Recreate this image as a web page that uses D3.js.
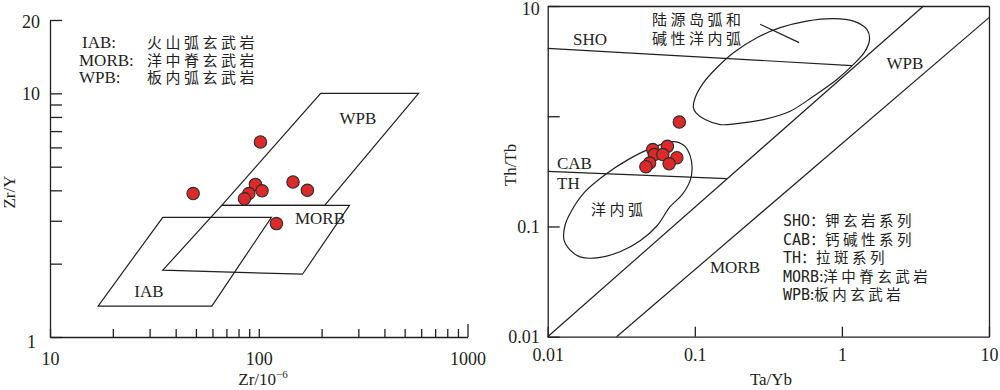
<!DOCTYPE html>
<html>
<head>
<meta charset="utf-8">
<script src="https://cdn.jsdelivr.net/npm/d3@7"></script>
<style>
body { margin: 0; background: #fff; }
svg { display: block; background: #fff; }
text { font-family: "Liberation Serif", "Noto Sans CJK SC", serif; fill: #231f20; }
.axis path, .axis line { stroke: #231f20; stroke-width: 1.3; }
.axis text { font-size: 18px; fill: #231f20; }
.line { fill: none; stroke: #231f20; stroke-width: 1.2; }
.dot { fill: #dc2a2a; stroke: #2b2b2b; stroke-width: 1.1; }
.lab { font-size: 17px; }
.cn { font-family: "Noto Sans CJK SC", sans-serif; font-size: 15px; letter-spacing: 3.5px; }
.mono { font-family: "DejaVu Sans Mono", monospace; font-size: 15px; }
</style>
</head>
<body>
<div id="chart"></div>
<script>
// ---- Left diagram: Zr/Y vs Zr ----
let zr  = [101.9, 48.5, 96.4, 89.6, 103.7, 85.4, 145.9, 171, 121.5];
let zrY = [6.32, 3.88, 4.23, 3.88, 3.98, 3.69, 4.33, 4.0, 2.92];

let zrTicks  = [10, 20, 30, 40, 50, 60, 70, 80, 90, 100, 200, 300, 400, 500, 600, 700, 800, 900, 1000];
let zrLabels = [10, 100, 1000];
let zrYTicks  = [1, 2, 3, 4, 5, 6, 7, 8, 9, 10, 20];
let zrYLabels = [1, 10, 20];

let wpbField  = [[198, 10], [583, 10], [207, 3.47], [66.5, 3.47]];
let morbField = [[66.5, 3.47], [272, 3.47], [162, 1.81], [34.7, 1.88]];
let iabField  = [[34.7, 3.1], [115, 3.1], [59.6, 1.34], [17, 1.34]];

let leftLegendAbbr = ['IAB:', 'MORB:', 'WPB:'];
let leftLegendName = ['火山弧玄武岩', '洋中脊玄武岩', '板内弧玄武岩'];

// ---- Right diagram: Th/Tb vs Ta/Yb ----
let taYb = [0.0785, 0.0518, 0.0651, 0.0531, 0.0606, 0.0755, 0.0669, 0.0493, 0.0465];
let thTb = [0.885, 0.498, 0.533, 0.449, 0.449, 0.421, 0.37, 0.376, 0.348];

let logTicks  = [0.01, 0.1, 1, 10];
let yLabelsR  = [0.01, 0.1, 10];

let shoLine   = [[0.01, 4.13], [1.17, 2.88]];
let thLine    = [[0.01, 0.316], [0.165, 0.2715]];
let arrayUpper = [[0.01, 0.01], [3.59, 10]];
let arrayLower = [[0.0294, 0.01], [10, 7.84]];
let arcCross  = [[0.278, 6.82], [0.512, 4.65]];

let contArcField = [
    [0.0978, 1.192], [0.1005, 1.47], [0.1144, 2.01], [0.1411, 2.754], [0.1831, 3.77],
    [0.2641, 5.16], [0.3804, 6.36], [0.5778, 7.30], [0.8767, 7.68], [1.199, 7.30],
    [1.479, 6.14], [1.541, 4.98], [1.44, 3.90], [1.199, 2.951], [0.9247, 2.157],
    [0.6408, 1.52], [0.4448, 1.11], [0.2929, 0.933], [0.193, 0.858], [0.1486, 0.840],
    [0.1175, 0.933], [0.102, 1.074]
];
let oceanArcField = [
    [0.0712, 0.589], [0.0846, 0.5417], [0.0929, 0.439], [0.0959, 0.3417], [0.0929, 0.2603],
    [0.082, 0.1942], [0.0679, 0.151], [0.0554, 0.1015], [0.0425, 0.0741], [0.031, 0.0589],
    [0.02165, 0.0519], [0.0166, 0.053], [0.01418, 0.0614], [0.0129, 0.0757], [0.0131, 0.1015],
    [0.0144, 0.136], [0.01794, 0.2067], [0.02454, 0.295], [0.0352, 0.404], [0.0497, 0.5085]
];

let rightLegendAbbr = ['SHO', 'CAB', 'TH', 'MORB', 'WPB'];
let rightLegendSep  = ['：', '：', '：', ':', ':'];
let rightLegendName = ['钾玄岩系列', '钙碱性系列', '拉斑系列', '洋中脊玄武岩', '板内玄武岩'];

let svg = d3.select('#chart')
    .append('svg')
    .attr('width', 1000)
    .attr('height', 390);

// ================= Left =================
let xL = d3.scaleLog().domain([10, 1000]).range([50, 467.5]);
let yL = d3.scaleLog().domain([1, 20]).range([337, 20]);

let lineL = d3.line()
    .x(function (d) { return xL(d[0]); })
    .y(function (d) { return yL(d[1]); })
    .curve(d3.curveLinearClosed);

[wpbField, morbField, iabField].forEach(function (f) {
    svg.append('path')
        .datum(f)
        .attr('class', 'line')
        .attr('d', lineL);
});

let gxL = svg.append('g')
    .attr('class', 'axis')
    .attr('transform', 'translate(0,337)')
    .call(d3.axisBottom(xL).tickValues(zrTicks).tickSizeInner(-8).tickSizeOuter(0)
        .tickPadding(15).tickFormat(function (d) { return zrLabels.includes(d) ? d : ''; }));
gxL.selectAll('.tick line').filter(function (d) { return d === 1000; }).attr('y2', -13);

let gyL = svg.append('g')
    .attr('class', 'axis')
    .attr('transform', 'translate(50,0)')
    .call(d3.axisLeft(yL).tickValues(zrYTicks).tickSizeInner(-12).tickSizeOuter(0)
        .tickPadding(10).tickFormat(function (d) { return zrYLabels.includes(d) ? d : ''; }));
gyL.selectAll('.tick text').filter(function (d) { return d === 1; })
    .attr('x', -14).attr('dy', '0.6em');
gyL.selectAll('.tick text').filter(function (d) { return d === 20; })
    .attr('dy', '0.4em');

svg.append('text').attr('class', 'lab')
    .attr('x', 263).attr('y', 385).attr('text-anchor', 'middle')
    .text('Zr/10')
    .append('tspan').attr('dy', -7).attr('font-size', 11).text('−6');

svg.append('text').attr('class', 'lab')
    .attr('transform', 'translate(15,192) rotate(-90)')
    .attr('text-anchor', 'middle')
    .text('Zr/Y');

svg.selectAll('.dotL')
    .data(zr)
    .enter().append('circle')
    .attr('class', 'dot')
    .attr('cx', function (d) { return xL(d); })
    .attr('cy', function (d, i) { return yL(zrY[i]); })
    .attr('r', 6.2);

svg.append('text').attr('class', 'lab').attr('x', 358).attr('y', 124)
    .attr('text-anchor', 'middle').text('WPB');
svg.append('text').attr('class', 'lab').attr('x', 320).attr('y', 224)
    .attr('text-anchor', 'middle').text('MORB');
svg.append('text').attr('class', 'lab').attr('x', 149).attr('y', 297)
    .attr('text-anchor', 'middle').text('IAB');

leftLegendAbbr.forEach(function (t, i) {
    svg.append('text').attr('class', 'lab')
        .attr('x', i === 0 ? 82 : 79).attr('y', 48 + i * 17.5).text(t);
    svg.append('text').attr('class', 'cn')
        .attr('x', 147).attr('y', 48 + i * 17.5).text(leftLegendName[i]);
});

// ================= Right =================
let xR = d3.scaleLog().domain([0.01, 10]).range([547.7, 989]);
let yR = d3.scaleLog().domain([0.01, 10]).range([336.7, 6]);

let lineR = d3.line()
    .x(function (d) { return xR(d[0]); })
    .y(function (d) { return yR(d[1]); });

[shoLine, thLine, arrayUpper, arrayLower, arcCross].forEach(function (l) {
    svg.append('path').datum(l).attr('class', 'line').attr('d', lineR);
});

let closedR = d3.line()
    .x(function (d) { return xR(d[0]); })
    .y(function (d) { return yR(d[1]); })
    .curve(d3.curveCatmullRomClosed.alpha(0.5));

[contArcField, oceanArcField].forEach(function (f) {
    svg.append('path').datum(f).attr('class', 'line').attr('d', closedR);
});

// frame
svg.append('g').attr('class', 'axis')
    .attr('transform', 'translate(0,336.7)')
    .call(d3.axisBottom(xR).tickValues(logTicks).tickSizeInner(-10).tickSizeOuter(0)
        .tickPadding(12).tickFormat(function (d) { return d; }));
let gyR = svg.append('g').attr('class', 'axis')
    .attr('transform', 'translate(547.7,0)')
    .call(d3.axisLeft(yR).tickValues(logTicks).tickSizeInner(-12).tickSizeOuter(0)
        .tickPadding(8).tickFormat(function (d) { return yLabelsR.includes(d) ? d : ''; }));
gyR.selectAll('.tick text').filter(function (d) { return d === 10; })
    .attr('dy', '0.45em');
svg.append('g').attr('class', 'axis')
    .attr('transform', 'translate(0,6)')
    .call(d3.axisTop(xR).tickValues([]).tickSizeOuter(0));
svg.append('g').attr('class', 'axis')
    .attr('transform', 'translate(989,0)')
    .call(d3.axisRight(yR).tickValues([]).tickSizeOuter(0));

svg.append('text').attr('class', 'lab')
    .attr('x', 771).attr('y', 385).attr('text-anchor', 'middle').text('Ta/Yb');
svg.append('text').attr('class', 'lab')
    .attr('transform', 'translate(516,165) rotate(-90)')
    .attr('text-anchor', 'middle').text('Th/Tb');

svg.selectAll('.dotR')
    .data(taYb)
    .enter().append('circle')
    .attr('class', 'dot')
    .attr('cx', function (d) { return xR(d); })
    .attr('cy', function (d, i) { return yR(thTb[i]); })
    .attr('r', 6.2);

svg.append('text').attr('class', 'lab').attr('x', 590).attr('y', 45)
    .attr('text-anchor', 'middle').text('SHO');
svg.append('text').attr('class', 'lab').attr('x', 905).attr('y', 69)
    .attr('text-anchor', 'middle').text('WPB');
svg.append('text').attr('class', 'lab').attr('x', 557).attr('y', 169).text('CAB');
svg.append('text').attr('class', 'lab').attr('x', 557).attr('y', 189).text('TH');
svg.append('text').attr('class', 'lab').attr('x', 735).attr('y', 273)
    .attr('text-anchor', 'middle').text('MORB');
svg.append('text').attr('class', 'cn').attr('x', 652).attr('y', 25).text('陆源岛弧和');
svg.append('text').attr('class', 'cn').attr('x', 652).attr('y', 44).text('碱性洋内弧');
svg.append('text').attr('class', 'cn').attr('x', 591).attr('y', 215).text('洋内弧');

rightLegendAbbr.forEach(function (t, i) {
    let tx = svg.append('text').attr('x', 783).attr('y', 226 + i * 18.5);
    tx.append('tspan').attr('class', 'mono').text(t);
    tx.append('tspan').attr('class', 'cn').style('letter-spacing', '0px').text(rightLegendSep[i]);
    tx.append('tspan').attr('class', 'cn').style('font-size', '14.5px').style('letter-spacing', '3.5px')
        .text(rightLegendName[i]);
});
</script>
</body>
</html>
